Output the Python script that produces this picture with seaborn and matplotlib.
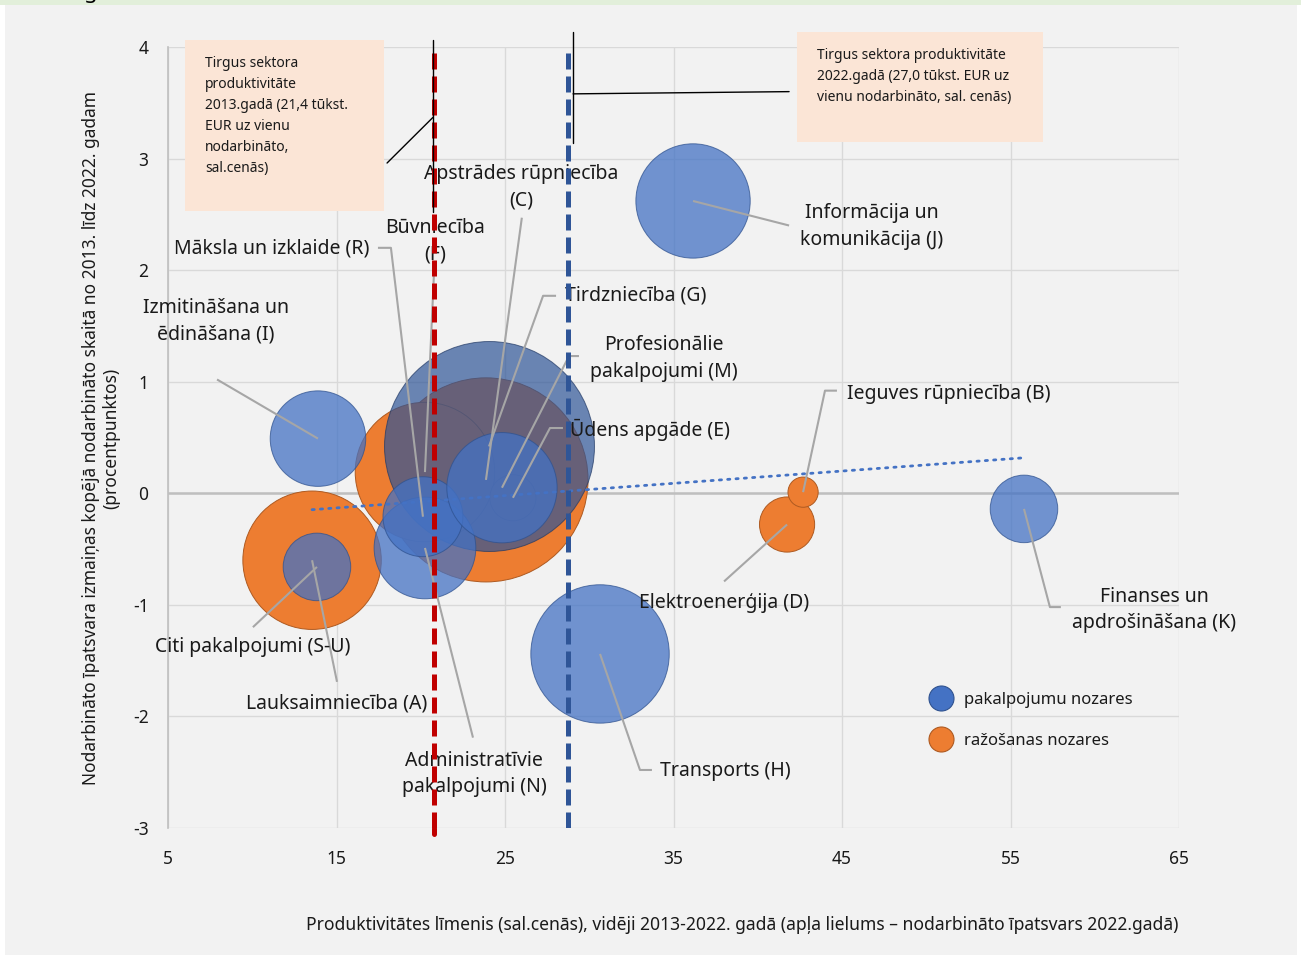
import matplotlib.pyplot as plt
import seaborn as sns
import numpy as np
import pandas as pd
from matplotlib.lines import Line2D
from matplotlib.patches import Rectangle

# Data (x: productivity, y: change of employment share, size: employment share 2022)
sector_codes = ["A", "C", "F", "E", "D", "B", "G", "J", "I", "H", "K", "N", "R", "M", "S-U"]
sector_group = ["ražošanas"] * 6 + ["pakalpojumu"] * 9
productivity = [13.55, 23.87, 20.25, 25.47, 41.74, 42.69, 24.05, 36.16, 13.9, 30.64, 55.8, 20.25, 20.13, 24.82, 13.84]
emp_change = [-0.60, 0.12, 0.19, -0.04, -0.28, 0.01, 0.42, 2.62, 0.49, -1.44, -0.14, -0.49, -0.21, 0.05, -0.66]
emp_share = [6.3, 13.7, 6.4, 0.7, 1.0, 0.3, 14.5, 4.3, 3.0, 6.3, 1.5, 3.4, 2.1, 4.0, 1.5]

ref_2013 = 20.8   # market sector productivity 2013 (red line)
ref_2022 = 28.75  # market sector productivity 2022 (blue line)

df = pd.DataFrame({"code": sector_codes, "group": sector_group, "x": productivity,
                   "y": emp_change, "share": emp_share})

# label text, text position, alignment, leader path (from text side towards bubble)
labels = {
    "C": ("Apstrādes rūpniecība\n(C)", 25.95, 2.74, "center", [(26.0, 2.47)]),
    "F": ("Būvniecība\n(F)", 20.85, 2.26, "center", [(20.8, 2.02)]),
    "R": ("Māksla un izklaide (R)", 16.95, 2.19, "right", [(17.46, 2.2), (18.23, 2.2)]),
    "I": ("Izmitināšana un\nēdināšana (I)", 7.85, 1.54, "center", [(7.91, 1.02)]),
    "G": ("Tirdzniecība (G)", 28.56, 1.77, "left", [(28.03, 1.77), (27.26, 1.77)]),
    "M": ("Profesionālie\npakalpojumi (M)", 34.44, 1.21, "center", [(29.39, 1.23), (28.8, 1.23)]),
    "E": ("Ūdens apgāde (E)", 28.86, 0.57, "left", [(28.44, 0.585), (27.67, 0.585)]),
    "J": ("Informācija un\nkomunikācija (J)", 46.78, 2.39, "center", [(41.86, 2.4)]),
    "B": ("Ieguves rūpniecība (B)", 45.3, 0.89, "left", [(44.7, 0.92), (43.99, 0.92)]),
    "D": ("Elektroenerģija (D)", 38.0, -0.98, "center", [(38.0, -0.79)]),
    "K": ("Finanses un\napdrošināšana (K)", 63.52, -1.045, "center", [(57.99, -1.02), (57.34, -1.02)]),
    "H": ("Transports (H)", 34.2, -2.49, "left", [(33.72, -2.48), (33.01, -2.48)]),
    "S-U": ("Citi pakalpojumi (S-U)", 10.04, -1.375, "center", [(10.04, -1.2)]),
    "A": ("Lauksaimniecība (A)", 15.03, -1.88, "center", [(15.03, -1.69)]),
    "N": ("Administratīvie\npakalpojumi (N)", 23.16, -2.515, "center", [(23.1, -2.19)]),
}

sns.set_theme(style="whitegrid")
plt.rcParams["font.family"] = ["Noto Sans", "DejaVu Sans"]
plt.rcParams["axes.unicode_minus"] = False
txt_color = "#1a1a1a"

fig = plt.figure(figsize=(13.01, 9.58), dpi=100, facecolor="white")
fig.patches.append(Rectangle((5 / 1301, 3 / 958), 1292 / 1301, 950 / 958, transform=fig.transFigure,
                             facecolor="#F2F2F2", edgecolor="none", zorder=-10))
fig.patches.append(Rectangle((0, 1 - 5 / 958), 1, 5 / 958, transform=fig.transFigure,
                             facecolor="#E2EFDA", edgecolor="none", zorder=-9))
# bottom of the cropped heading above the chart
fig.text(84 / 1301, 1 + 2 / 958, "g", fontsize=16, fontweight="bold", color="black", va="baseline")

ax = fig.add_axes([168 / 1301, 1 - 828 / 958, 1011 / 1301, 781 / 958])
ax.set_facecolor("#F2F2F2")

size_max = 1576 * max(emp_share)
size_kw = dict(size="share", sizes=(0, size_max), size_norm=(0, max(emp_share)), legend=False)

# production sectors first, then trade, then the other services on top
sns.scatterplot(data=df[df.group == "ražošanas"], x="x", y="y", color="#ED7D31", alpha=1.0,
                edgecolor="#AE5A21", linewidth=0.7, zorder=2, ax=ax, **size_kw)
sns.scatterplot(data=df[df.code == "G"], x="x", y="y", color="#2F5597", alpha=0.7,
                edgecolor="#203864", linewidth=0.7, zorder=2, ax=ax, **size_kw)
sns.scatterplot(data=df[(df.group == "pakalpojumu") & (df.code != "G")], x="x", y="y",
                color="#4472C4", alpha=0.75, edgecolor="#2F528F", linewidth=0.7, zorder=2, ax=ax, **size_kw)

# linear trend over all sectors
sns.regplot(data=df, x="x", y="y", scatter=False, ci=None, truncate=True, ax=ax,
            line_kws={"color": "#4472C4", "linestyle": (0, (0.8, 2.2)), "linewidth": 2.0,
                      "dash_capstyle": "round", "zorder": 3})

# leader lines and labels
for code, (text, tx, ty, ha, path) in labels.items():
    row = df[df.code == code].iloc[0]
    pts = path + [(row.x, row.y)]
    ax.plot([p[0] for p in pts], [p[1] for p in pts], color="#A6A6A6", lw=1.5, zorder=5,
            solid_capstyle="butt")
    ax.text(tx, ty, text, ha=ha, va="center", fontsize=14, color=txt_color, zorder=6,
            linespacing=1.45)

# reference lines
ax.axvline(ref_2013, ymin=0, ymax=1, color="#C00000", lw=3.6, dashes=(3.2, 1.4), zorder=7)
ax.plot([ref_2013, ref_2013], [-3, -3.05], color="#C00000", lw=3.6, clip_on=False, zorder=7)
ax.axvline(ref_2022, ymin=0, ymax=1.012, color="#2F5597", lw=3.6, dashes=(3.2, 1.4), zorder=7)

# callout boxes
ax.add_patch(Rectangle((6.01, 2.53), 11.81, 1.53, facecolor="#FBE5D6", edgecolor="none",
                       clip_on=False, zorder=4))
ax.text(7.2, 3.92, "Tirgus sektora\nproduktivitāte\n2013.gadā (21,4 tūkst.\nEUR uz vienu\nnodarbināto,\nsal.cenās)",
        ha="left", va="top", fontsize=10, color=txt_color, linespacing=1.55, zorder=5)
ax.add_patch(Rectangle((42.33, 3.15), 14.6, 0.98, facecolor="#FBE5D6", edgecolor="none",
                       clip_on=False, zorder=4))
ax.text(43.52, 3.995, "Tirgus sektora produktivitāte\n2022.gadā (27,0 tūkst. EUR uz\nvienu nodarbināto, sal. cenās)",
        ha="left", va="top", fontsize=10, color=txt_color, linespacing=1.55, zorder=5)

# connector lines of the callouts
ax.plot([20.73, 20.73], [4.06, 2.52], color="black", lw=1, clip_on=False, zorder=8)
ax.plot([18.0, 20.73], [2.96, 3.37], color="black", lw=1, clip_on=False, zorder=8)
ax.plot([29.04, 29.04], [4.13, 3.14], color="black", lw=1, clip_on=False, zorder=8)
ax.plot([29.04, 41.86], [3.58, 3.6], color="black", lw=1, clip_on=False, zorder=8)

# axes styling
ax.set_xlim(5, 65)
ax.set_ylim(-3, 4)
ax.set_xticks(np.arange(5, 66, 10))
ax.set_yticks(np.arange(-3, 5, 1))
ax.grid(True, color="#D9D9D9", lw=1)
ax.axhline(0, color="#BFBFBF", lw=1.8, zorder=1)
for side in ["top", "right", "bottom"]:
    ax.spines[side].set_visible(False)
ax.spines["left"].set_color("#BFBFBF")
ax.spines["left"].set_linewidth(1.2)
ax.tick_params(axis="both", length=0, labelsize=12.5, labelcolor=txt_color)
ax.tick_params(axis="y", pad=14)
ax.tick_params(axis="x", pad=16)
ax.set_xlabel("")
ax.set_ylabel("")

fig.text(101 / 1301, 1 - 438 / 958,
         "Nodarbināto īpatsvara izmaiņas kopējā nodarbināto skaitā no 2013. līdz 2022. gadam\n(procentpunktos)",
         rotation=90, ha="center", va="center", fontsize=12.5, color=txt_color, linespacing=1.15)
fig.text(742 / 1301, 1 - 925 / 958,
         "Produktivitātes līmenis (sal.cenās), vidēji 2013-2022. gadā (apļa lielums – nodarbināto īpatsvars 2022.gadā)",
         ha="center", va="center", fontsize=12.6, color=txt_color)

# legend
handles = [Line2D([], [], marker="o", ls="", markersize=18, markerfacecolor="#4472C4",
                  markeredgecolor="#2F528F", markeredgewidth=0.8),
           Line2D([], [], marker="o", ls="", markersize=18, markerfacecolor="#ED7D31",
                  markeredgecolor="#AE5A21", markeredgewidth=0.8)]
ax.legend(handles, ["pakalpojumu nozares", "ražošanas nozares"], loc="upper left",
          bbox_to_anchor=(0.740, 0.185), frameon=False, fontsize=12, labelspacing=1.5,
          handletextpad=0.4, borderpad=0, labelcolor=txt_color)

fig.savefig("out.png", dpi=100, facecolor=fig.get_facecolor())
